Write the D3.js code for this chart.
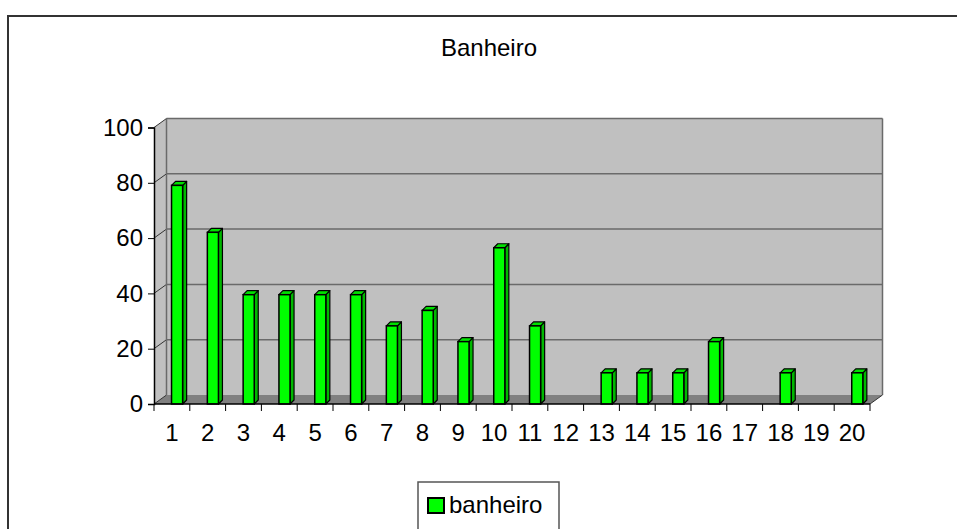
<!DOCTYPE html>
<html>
<head>
<meta charset="utf-8">
<script src="https://cdn.jsdelivr.net/npm/d3@7"></script>
<style>
body { margin: 0; background: #fff; }
svg { display: block; font-family: "Liberation Sans", Arial, sans-serif; }
</style>
</head>
<body>
<div id="chart"></div>
<script>
var categories = ["1","2","3","4","5","6","7","8","9","10","11","12","13","14","15","16","17","18","19","20"];
var banheiro = [77.8, 61.1, 38.9, 38.9, 38.9, 38.9, 27.8, 33.3, 22.2, 55.6, 27.8, 0, 11.1, 11.1, 11.1, 22.2, 0, 11.1, 0, 11.1];
var yTicks = [0, 20, 40, 60, 80, 100];
var seriesName = "banheiro";
var title = "Banheiro";

var width = 957, height = 529;
var depth = { dx: 12.5, dy: -9 };      // offset from front plane to back wall
var barDepth = { dx: 4, dy: -4 };

var svg = d3.select("#chart")
    .append("svg")
    .attr("width", width)
    .attr("height", height);

// outer frame
svg.append("rect")
    .attr("x", 8).attr("y", 16)
    .attr("width", 970).attr("height", 540)
    .attr("fill", "none")
    .attr("stroke", "#333")
    .attr("stroke-width", 2);

svg.append("text")
    .attr("x", 489)
    .attr("y", 56)
    .attr("text-anchor", "middle")
    .style("font-size", "24px")
    .attr("fill", "#000")
    .text(title);

var x = d3.scaleBand()
    .domain(categories)
    .range([154, 870])
    .padding(0);

var y = d3.scaleLinear()
    .domain([0, 100])
    .range([404, 127.5]);

// bars sit a little back in depth, so their plane is a bit taller
var yBar = d3.scaleLinear()
    .domain([0, 100])
    .range([404, 123]);

var x0 = x.range()[0], x1 = x.range()[1];
var y0 = y(0), yTop = y(100);

function pts(arr) { return arr.map(function (p) { return p.join(","); }).join(" "); }

// back wall
svg.append("polygon")
    .attr("points", pts([[x0 + depth.dx, y0 + depth.dy], [x0 + depth.dx, yTop + depth.dy],
        [x1 + depth.dx, yTop + depth.dy], [x1 + depth.dx, y0 + depth.dy]]))
    .attr("fill", "#c0c0c0");

// side wall
svg.append("polygon")
    .attr("points", pts([[x0, y0], [x0, yTop], [x0 + depth.dx, yTop + depth.dy], [x0 + depth.dx, y0 + depth.dy]]))
    .attr("fill", "#c0c0c0");

// floor
svg.append("polygon")
    .attr("points", pts([[x0, y0], [x1, y0], [x1 + depth.dx, y0 + depth.dy], [x0 + depth.dx, y0 + depth.dy]]))
    .attr("fill", "#808080");

// gridlines on back wall and side wall
yTicks.forEach(function (t) {
    if (t > 0) {
        svg.append("line")
            .attr("x1", x0 + depth.dx).attr("x2", x1 + depth.dx)
            .attr("y1", y(t) + depth.dy).attr("y2", y(t) + depth.dy)
            .attr("stroke", "#6a6a6a")
            .attr("stroke-width", 1.5);
    }
    svg.append("line")
        .attr("x1", x0).attr("y1", y(t))
        .attr("x2", x0 + depth.dx).attr("y2", y(t) + depth.dy)
        .attr("stroke", "#333")
        .attr("stroke-width", 1);
});

// back wall edges
svg.append("line")
    .attr("x1", x0 + depth.dx).attr("x2", x0 + depth.dx)
    .attr("y1", yTop + depth.dy).attr("y2", y0 + depth.dy)
    .attr("stroke", "#6a6a6a").attr("stroke-width", 1.5);
svg.append("line")
    .attr("x1", x1 + depth.dx).attr("x2", x1 + depth.dx)
    .attr("y1", yTop + depth.dy).attr("y2", y0 + depth.dy)
    .attr("stroke", "#6a6a6a").attr("stroke-width", 1.5);

// floor edges
svg.append("line")
    .attr("x1", x1).attr("y1", y0)
    .attr("x2", x1 + depth.dx).attr("y2", y0 + depth.dy)
    .attr("stroke", "#333").attr("stroke-width", 1);

// bars
var bw = x.bandwidth();
var barW = bw * 0.31;
var bars = svg.selectAll(".bar")
    .data(categories.map(function (c, i) { return { cat: c, v: banheiro[i] }; }).filter(function (d) { return d.v > 0; }))
    .enter()
    .append("g")
    .attr("class", "bar");

bars.each(function (d) {
    var g = d3.select(this);
    var bx = x(d.cat) + bw * 0.49;
    var by = yBar(d.v), bb = yBar(0);
    // side face
    g.append("polygon")
        .attr("points", pts([[bx + barW, bb], [bx + barW, by], [bx + barW + barDepth.dx, by + barDepth.dy],
            [bx + barW + barDepth.dx, bb + barDepth.dy]]))
        .attr("fill", "#00b800")
        .attr("stroke", "#000").attr("stroke-width", 1.2).attr("stroke-linejoin", "round");
    // top face
    g.append("polygon")
        .attr("points", pts([[bx, by], [bx + barW, by], [bx + barW + barDepth.dx, by + barDepth.dy],
            [bx + barDepth.dx, by + barDepth.dy]]))
        .attr("fill", "#00e000")
        .attr("stroke", "#000").attr("stroke-width", 1.2).attr("stroke-linejoin", "round");
    // front face
    g.append("rect")
        .attr("x", bx).attr("y", by)
        .attr("width", barW).attr("height", bb - by)
        .attr("fill", "#00ff00")
        .attr("stroke", "#000").attr("stroke-width", 1.5);
});

// front floor edge / x axis
svg.append("line")
    .attr("x1", x0).attr("x2", x1)
    .attr("y1", y0).attr("y2", y0)
    .attr("stroke", "#000").attr("stroke-width", 1.5);

// y axis
var yAxis = svg.append("g")
    .attr("transform", "translate(" + x0 + ",0)")
    .call(d3.axisLeft(y).tickValues(yTicks).tickSize(6).tickPadding(5).tickFormat(d3.format("d")));
yAxis.select(".domain").attr("stroke", "#000").attr("stroke-width", 1.5);
yAxis.selectAll(".tick line").attr("stroke", "#000");
yAxis.selectAll("text")
    .style("font-size", "24px")
    .style("font-family", "'Liberation Sans', Arial, sans-serif")
    .attr("fill", "#000");

// x axis tick marks at band edges
var edges = categories.map(function (c) { return x(c); }).concat([x1]);
svg.selectAll(".xtick")
    .data(edges)
    .enter()
    .append("line")
    .attr("class", "xtick")
    .attr("x1", function (d) { return d; }).attr("x2", function (d) { return d; })
    .attr("y1", y0).attr("y2", y0 + 7)
    .attr("stroke", "#000").attr("stroke-width", 1);

svg.selectAll(".xlabel")
    .data(categories)
    .enter()
    .append("text")
    .attr("class", "xlabel")
    .attr("x", function (d) { return x(d) + bw / 2; })
    .attr("y", 441)
    .attr("text-anchor", "middle")
    .style("font-size", "24px")
    .attr("fill", "#000")
    .text(function (d) { return d; });

// legend
var legend = svg.append("g").attr("transform", "translate(418,482)");
legend.append("rect")
    .attr("x", 0).attr("y", 0)
    .attr("width", 141).attr("height", 60)
    .attr("fill", "#fff")
    .attr("stroke", "#555").attr("stroke-width", 1.5);
legend.append("rect")
    .attr("x", 10).attr("y", 16)
    .attr("width", 16).attr("height", 15)
    .attr("fill", "#00ff00")
    .attr("stroke", "#000").attr("stroke-width", 2);
legend.append("text")
    .attr("x", 31).attr("y", 31)
    .style("font-size", "24px")
    .attr("fill", "#000")
    .text(seriesName);
</script>
</body>
</html>
